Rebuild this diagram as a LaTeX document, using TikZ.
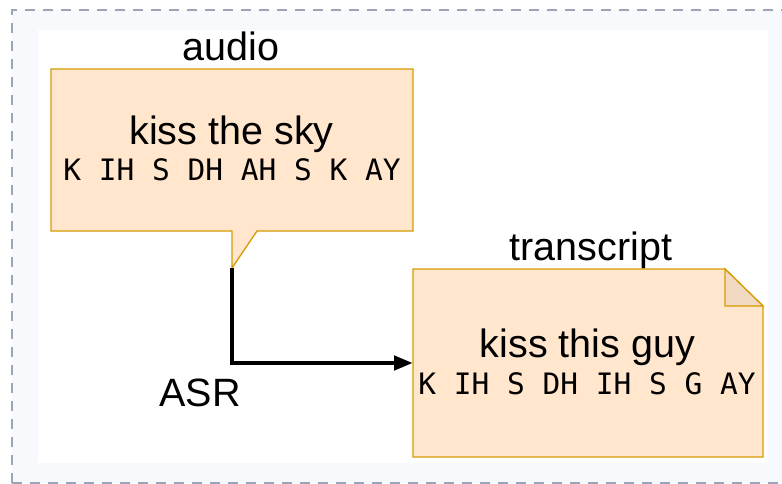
\documentclass[tikz,border=0pt]{standalone}
\usepackage{fontspec}
\setmainfont{Liberation Sans}
\newfontfamily\monofont{DejaVu Sans Mono}
\usetikzlibrary{arrows.meta}
\definecolor{boxfill}{HTML}{FFE6CC}
\definecolor{boxline}{HTML}{D79B00}
\definecolor{foldfill}{HTML}{F2D9C1}
\definecolor{outerfill}{HTML}{F7F9FC}
\definecolor{outerline}{HTML}{9AA5B8}
\begin{document}
\begin{tikzpicture}[x=1pt,y=-1pt,
  lbl/.style={font=\fontsize{39.5}{42}\selectfont, anchor=base, inner sep=0pt},
  phon/.style={font=\monofont\fontsize{29.5}{32}\selectfont, anchor=base, inner sep=0pt},
  shapebox/.style={draw=boxline, fill=boxfill, line width=1.3pt, line join=miter},
  holder/.style={inner sep=0pt, outer sep=0pt}]
\useasboundingbox (0,0) rectangle (782,484);
\begin{scope}
  \clip (0,0) rectangle (782,484);
  \fill[outerfill] (12,10) rectangle (820,483);
  \draw[outerline, line width=2.2pt, dash pattern=on 10pt off 8pt] (12,483) -- (12,10) -- (820,10);
  \draw[outerline, line width=2.2pt, dash pattern=on 10pt off 8pt] (12,483) -- (820,483);
\end{scope}
\fill[white] (38,30) rectangle (768,463);

% audio callout
\node[holder, minimum width=362pt, minimum height=162pt] (audio) at (232,150) {};
\coordinate (tail) at (232,268);
\draw[shapebox] (audio.north west) -- (audio.north east) -- (audio.south east)
  -- (257,231) -- (tail) -- (232,231) -- (audio.south west) -- cycle;
\node[lbl] (audiolbl) at (231,61) {audio};
\node[lbl] (sky) at (231.5,145) {kiss the sky};
\node[phon] (skyph) at (232,180) {K IH S DH AH S K AY};

% transcript note
\node[holder, minimum width=350pt, minimum height=188pt] (note) at (588,363) {};
\draw[shapebox] (note.north west) -- (725,269) -- (763,306) -- (note.south east)
  -- (note.south west) -- cycle;
\draw[shapebox, fill=foldfill] (725,269) -- (725,306) -- (763,306) -- cycle;
\node[lbl] (notelbl) at (591,260) {transcript};
\node[lbl] (guy) at (587.5,357) {kiss this guy};
\node[phon] (guyph) at (587,394) {K IH S DH IH S G AY};

% ASR arrow
\draw[line width=4.5pt, -{Triangle[length=19pt,width=14pt]}] (tail) |- (note.west);
\node[lbl] (asr) at (200,406) {ASR};
\end{tikzpicture}
\end{document}
